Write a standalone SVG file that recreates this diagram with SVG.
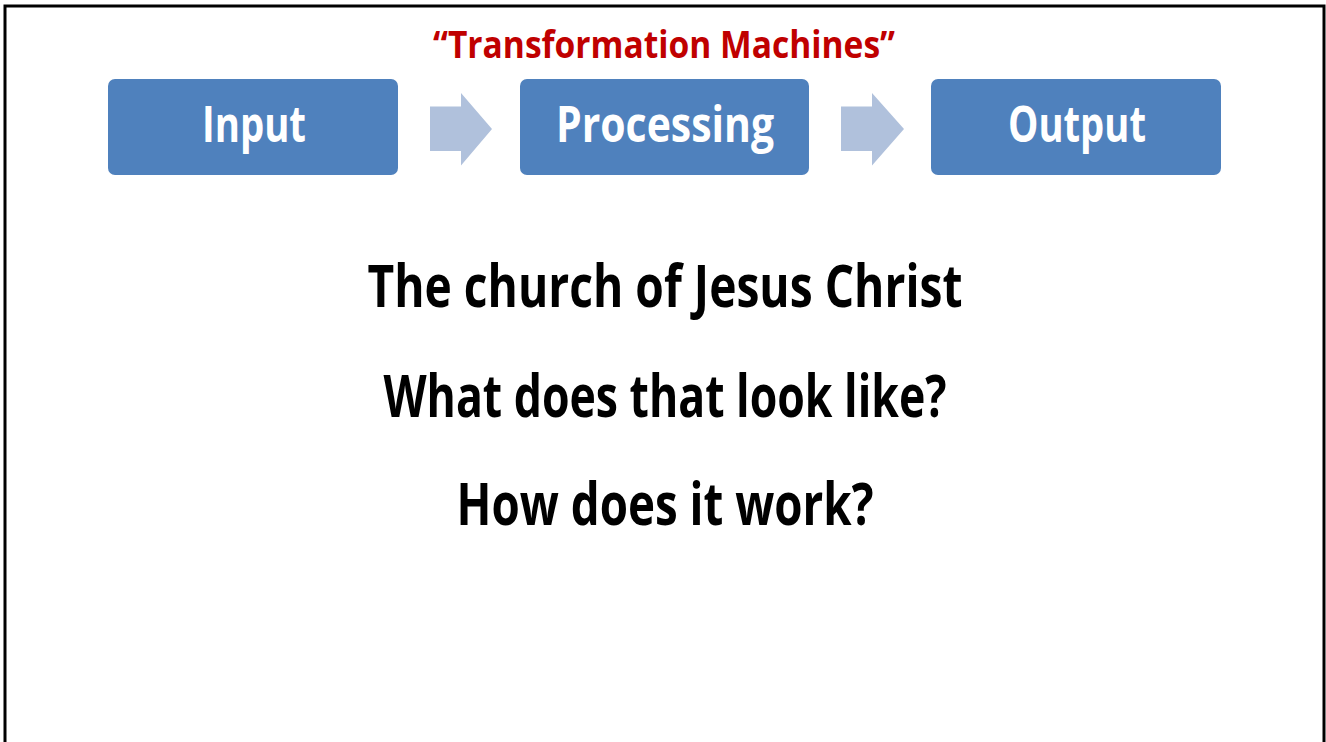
<svg xmlns="http://www.w3.org/2000/svg" width="1326" height="742" viewBox="0 0 1326 742">
<style>
.box{fill:#4F81BD;}
.arr{fill:#B0C1DC;}
.bt{fill:#fff;font-family:"Open Sans","Liberation Sans",sans-serif;font-weight:bold;font-size:51px;text-anchor:middle;}
.mt{fill:#000;font-family:"Open Sans","Liberation Sans",sans-serif;font-weight:bold;font-size:59px;text-anchor:middle;}
.tt{fill:#C00000;font-family:"Open Sans","Liberation Sans",sans-serif;font-weight:bold;font-size:38px;text-anchor:middle;}
</style>
<rect x="0" y="0" width="1326" height="742" fill="#fff"/>
<path d="M5,745 V6 H1324 V745" fill="none" stroke="#000" stroke-width="3"/>
<text class="tt" x="664" y="58" textLength="462" lengthAdjust="spacingAndGlyphs">“Transformation Machines”</text>
<g id="input">
<rect class="box" x="108" y="79" width="290" height="96" rx="7"/>
<text class="bt" x="254" y="142" textLength="104" lengthAdjust="spacingAndGlyphs">Input</text>
</g>
<g id="processing">
<rect class="box" x="520" y="79" width="289" height="96" rx="7"/>
<text class="bt" x="665" y="142" textLength="218" lengthAdjust="spacingAndGlyphs">Processing</text>
</g>
<g id="output">
<rect class="box" x="931" y="79" width="290" height="96" rx="7"/>
<text class="bt" x="1077" y="142" textLength="138" lengthAdjust="spacingAndGlyphs">Output</text>
</g>
<g id="connectors">
<polygon class="arr" points="430,106.5 461,106.5 461,93 492,129 461,165.5 461,151 430,151"/>
<polygon class="arr" points="841,106.5 872,106.5 872,93 904,129 872,165.5 872,151 841,151"/>
</g>
<g id="text">
<text class="mt" x="665" y="307" textLength="595" lengthAdjust="spacingAndGlyphs">The church of Jesus Christ</text>
<text class="mt" x="665" y="417" textLength="563" lengthAdjust="spacingAndGlyphs">What does that look like?</text>
<text class="mt" x="665" y="525" textLength="417" lengthAdjust="spacingAndGlyphs">How does it work?</text>
</g>
</svg>
